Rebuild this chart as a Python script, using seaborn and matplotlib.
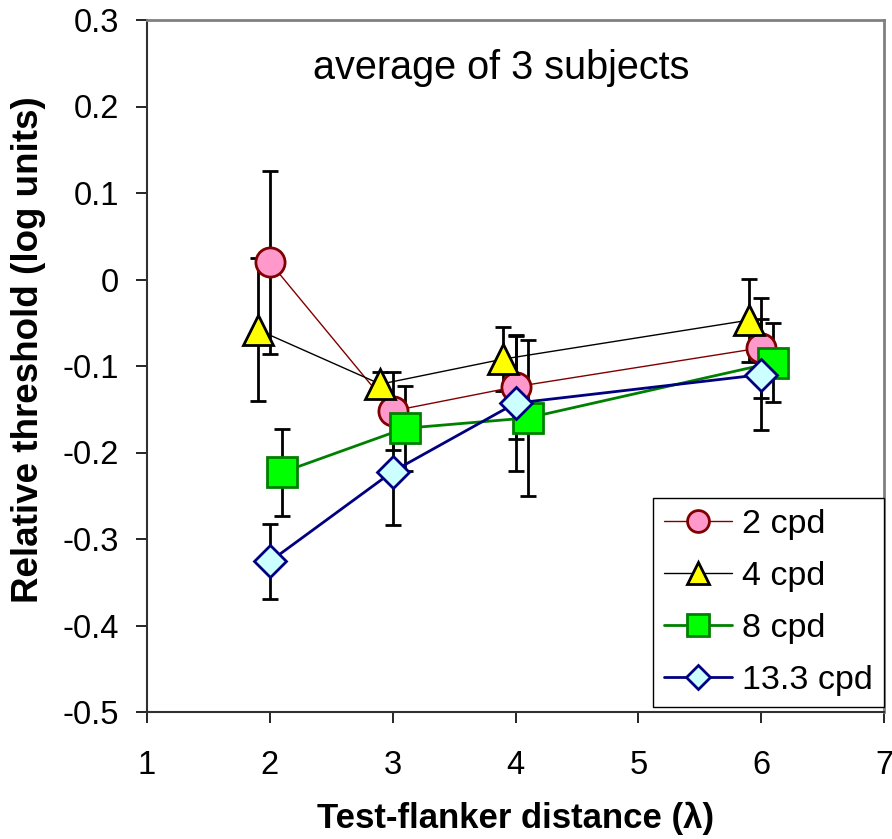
import matplotlib
matplotlib.use("Agg")
import matplotlib.pyplot as plt
import seaborn as sns
import numpy as np
import pandas as pd

# ---- data ----
series_names = ["2 cpd", "4 cpd", "8 cpd", "13.3 cpd"]

x_2cpd = [2.0, 3.0, 4.0, 6.0]
y_2cpd = [0.020, -0.152, -0.124, -0.079]
e_2cpd = [0.106, 0.045, 0.060, 0.058]

x_4cpd = [1.9, 2.9, 3.9, 5.9]
y_4cpd = [-0.058, -0.121, -0.092, -0.047]
e_4cpd = [0.083, 0.014, 0.037, 0.048]

x_8cpd = [2.1, 3.1, 4.1, 6.1]
y_8cpd = [-0.223, -0.172, -0.160, -0.096]
e_8cpd = [0.050, 0.049, 0.090, 0.046]

x_13cpd = [2.0, 3.0, 4.0, 6.0]
y_13cpd = [-0.326, -0.222, -0.143, -0.110]
e_13cpd = [0.043, 0.062, 0.078, 0.064]

x_ticks = [1, 2, 3, 4, 5, 6, 7]
y_ticks = [-0.5, -0.4, -0.3, -0.2, -0.1, 0.0, 0.1, 0.2, 0.3]
y_tick_labels = ["-0.5", "-0.4", "-0.3", "-0.2", "-0.1", "0", "0.1", "0.2", "0.3"]

# ---- styling ----
sns.set_theme(style="ticks")
plt.rcParams["font.family"] = ["Liberation Sans", "DejaVu Sans"]
plt.rcParams["axes.unicode_minus"] = False
plt.rcParams["text.color"] = "black"
plt.rcParams["axes.labelcolor"] = "black"
plt.rcParams["xtick.color"] = "black"
plt.rcParams["ytick.color"] = "black"

styles = [
    dict(marker="o", ms=21, mfc="#FF99CC", mec="#800000", lc="#800000", lw=1.0),
    dict(marker="^", ms=22, mfc="#FFFF00", mec="#000000", lc="#000000", lw=1.0),
    dict(marker="s", ms=21, mfc="#00FF00", mec="#008000", lc="#008000", lw=2.0),
    dict(marker="D", ms=16, mfc="#CCFFFF", mec="#000080", lc="#000080", lw=2.0),
]
xs = [x_2cpd, x_4cpd, x_8cpd, x_13cpd]
ys = [y_2cpd, y_4cpd, y_8cpd, y_13cpd]
es = [e_2cpd, e_4cpd, e_8cpd, e_13cpd]

fig = plt.figure(figsize=(8.92, 8.39), dpi=100)
ax = fig.add_axes([147 / 892, 1 - 712 / 839, 737 / 892, 692 / 839])

# error bars (beneath markers)
for x, y, e in zip(xs, ys, es):
    ax.errorbar(x, y, yerr=e, fmt="none", ecolor="black", elinewidth=2.0,
                capsize=6, capthick=2.0, zorder=2)

# lines + markers
for i, (name, x, y, st) in enumerate(zip(series_names, xs, ys, styles)):
    df = pd.DataFrame({"x": x, "y": y})
    sns.lineplot(data=df, x="x", y="y", ax=ax, color=st["lc"], linewidth=st["lw"],
                 marker=st["marker"], markersize=st["ms"], markerfacecolor=st["mfc"],
                 markeredgecolor=st["mec"], markeredgewidth=2.0, label=name,
                 errorbar=None, sort=False, zorder=3 + i)

ax.set_xlim(1, 7)
ax.set_ylim(-0.5, 0.3)
ax.set_xticks(x_ticks)
ax.set_xticklabels([str(t) for t in x_ticks])
ax.set_yticks(y_ticks)
ax.set_yticklabels(y_tick_labels)

ax.tick_params(axis="both", direction="out", length=8, width=1.2, color="black",
               labelsize=23.5, labelcolor="black")
ax.tick_params(axis="y", pad=12)
ax.tick_params(axis="x", pad=19)

for side in ["left", "bottom"]:
    ax.spines[side].set_color("#303030")
    ax.spines[side].set_linewidth(1.5)
for side in ["top", "right"]:
    ax.spines[side].set_visible(True)
    ax.spines[side].set_color("#808080")
    ax.spines[side].set_linewidth(2.0)

ax.set_xlabel("Test-flanker distance (λ)", fontsize=25, fontweight="bold",
              labelpad=15, color="black")
ax.set_ylabel("Relative threshold (log units)", fontsize=26.5, fontweight="bold",
              color="black")
ax.yaxis.set_label_coords(-0.137, 0.523)

ax.text(0.48, 0.93, "average of 3 subjects", transform=ax.transAxes,
        ha="center", va="center", fontsize=28.5, color="black")

leg = ax.legend(loc="lower right", bbox_to_anchor=(1.0, 0.007), borderaxespad=0,
                fontsize=24.5, markerscale=0.75, handlelength=2.0, handletextpad=0.3,
                labelspacing=0.62, fancybox=False, framealpha=1, edgecolor="black",
                borderpad=0.32)
leg.get_frame().set_linewidth(1.0)
for t in leg.get_texts():
    t.set_color("black")

fig.savefig("out.png", dpi=100)
